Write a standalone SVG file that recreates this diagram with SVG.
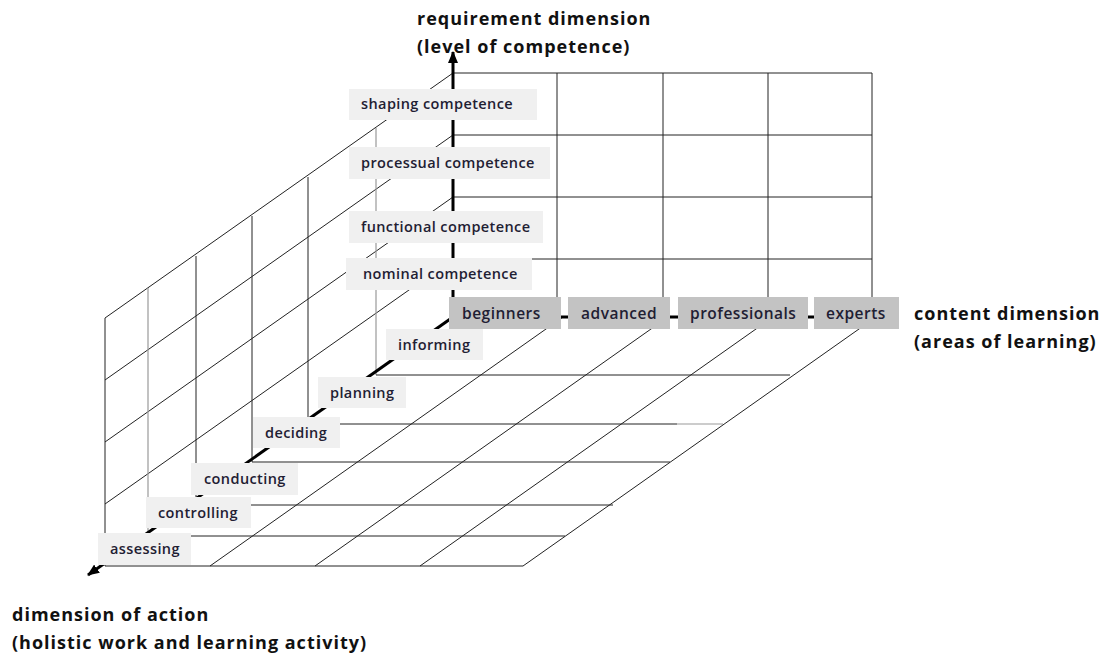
<svg xmlns="http://www.w3.org/2000/svg" width="1106" height="657" viewBox="0 0 1106 657">
<style>
.g{stroke:#222;stroke-width:1;fill:none}
.gl{stroke:#9a9a9a;stroke-width:1.2;fill:none}
.ax{stroke:#000;stroke-width:3;fill:none}
.lb{fill:#f0f0f0}
.lbd{fill:#c3c3c3}
.t{font-family:"Open Sans",sans-serif;font-size:14.5px;font-weight:600;letter-spacing:0.4px;fill:#1f2033}
.tc{font-family:"Open Sans",sans-serif;font-size:15.5px;font-weight:600;letter-spacing:0.5px;fill:#1f2033}
.h{font-family:"Open Sans",sans-serif;font-size:18px;font-weight:700;letter-spacing:1px;fill:#111}
</style>
<defs>
<marker id="arr" markerUnits="userSpaceOnUse" markerWidth="12" markerHeight="10" refX="11" refY="5" orient="auto">
<path d="M0,0 L12,5 L0,10 z" fill="#000"/>
</marker>
</defs>
<g id="grid">
<path class="g" d="M453,73 H872 M453,135 H872 M453,197 H872 M453,259 H872 M557,73 V310 M663,73 V310 M768,73 V310 M872,73 V310"/>
<path class="g" d="M453,73 L105,318 M453,135 L105,380 M453,197 L105,442 M453,259 L105,504"/>
<path class="g" d="M105,318 V566 M196,256 V505 M252,216 V462 M308,177 V424"/>
<path class="gl" d="M148,288 V536 M376,128 V375"/>
<path class="g" d="M376,375 H790 M308,424 H677 M252,462 H670 M196,505 H613 M148,536 H565 M105,566 H523"/>
<path class="gl" d="M677,424 H723"/>
<path class="g" d="M563,317 L210,566 M668,317 L315,566 M773,317 L420,566 M876,317 L523,566"/>
</g>
<g id="connectors">
<line class="ax" x1="453" y1="319" x2="453" y2="52" marker-end="url(#arr)"/>
<line class="ax" x1="453" y1="317" x2="880" y2="317"/>
<line class="ax" x1="453" y1="317" x2="88" y2="575" marker-end="url(#arr)"/>
</g>
<g id="competence-labels">
<g id="shaping"><rect class="lb" x="349" y="89" width="188" height="31"/><text class="t" x="361" y="109">shaping competence</text></g>
<g id="processual"><rect class="lb" x="349" y="147" width="201" height="32"/><text class="t" x="361" y="168">processual competence</text></g>
<g id="functional"><rect class="lb" x="349" y="211" width="194" height="32"/><text class="t" x="361" y="232">functional competence</text></g>
<g id="nominal"><rect class="lb" x="346" y="258" width="186" height="32"/><text class="t" x="363" y="279">nominal competence</text></g>
</g>
<g id="content-labels">
<g id="beginners"><rect class="lbd" x="449" y="297" width="112" height="32"/><text class="tc" x="462" y="319">beginners</text></g>
<g id="advanced"><rect class="lbd" x="568" y="297" width="102" height="32"/><text class="tc" x="581" y="319">advanced</text></g>
<g id="professionals"><rect class="lbd" x="678" y="297" width="130" height="32"/><text class="tc" x="690" y="319">professionals</text></g>
<g id="experts"><rect class="lbd" x="814" y="297" width="85" height="32"/><text class="tc" x="826" y="319">experts</text></g>
</g>
<g id="action-labels">
<g id="informing"><rect class="lb" x="386" y="329" width="97" height="31"/><text class="t" x="398" y="350">informing</text></g>
<g id="planning"><rect class="lb" x="318" y="377" width="88" height="31"/><text class="t" x="330" y="398">planning</text></g>
<g id="deciding"><rect class="lb" x="253" y="417" width="87" height="31"/><text class="t" x="265" y="438">deciding</text></g>
<g id="conducting"><rect class="lb" x="191" y="463" width="107" height="32"/><text class="t" x="204" y="484">conducting</text></g>
<g id="controlling"><rect class="lb" x="146" y="497" width="105" height="31"/><text class="t" x="158" y="518">controlling</text></g>
<g id="assessing"><rect class="lb" x="98" y="533" width="93" height="32"/><text class="t" x="110" y="554">assessing</text></g>
</g>
<g id="axis-titles">
<text class="h" x="417" y="25">requirement dimension</text>
<text class="h" x="417" y="53">(level of competence)</text>
<text class="h" x="914" y="320">content dimension</text>
<text class="h" x="914" y="348">(areas of learning)</text>
<text class="h" x="12" y="621">dimension of action</text>
<text class="h" x="12" y="649">(holistic work and learning activity)</text>
</g>
</svg>
